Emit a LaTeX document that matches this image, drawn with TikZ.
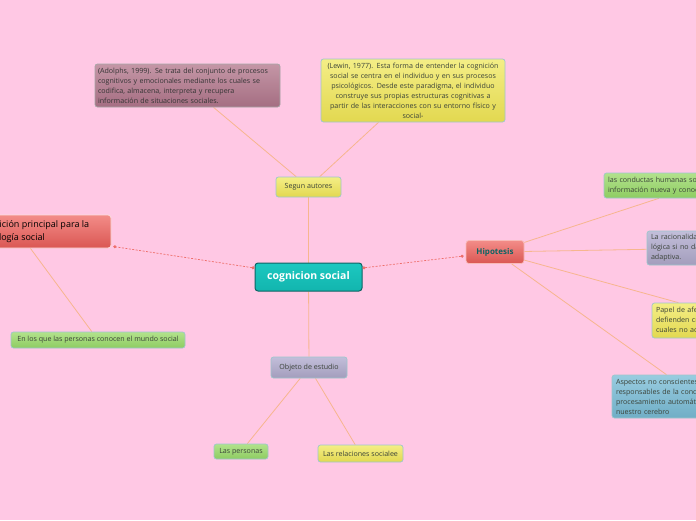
\documentclass[tikz,border=0pt]{standalone}
\usepackage{fontspec}
\setmainfont{Open Sans}
\usetikzlibrary{arrows.meta,calc,backgrounds}
\definecolor{bgpink}{HTML}{FFC8E4}
\definecolor{linor}{HTML}{F7B68E}
\definecolor{dashred}{HTML}{EE6E6A}
\definecolor{tealA}{HTML}{1CC8C0}
\definecolor{tealB}{HTML}{12B5AE}
\definecolor{tealD}{HTML}{0E6464}
\definecolor{redA}{HTML}{F38C88}
\definecolor{redB}{HTML}{DA5753}
\definecolor{yelA}{HTML}{F4EE86}
\definecolor{yelB}{HTML}{E2D850}
\definecolor{grnA}{HTML}{B2E28C}
\definecolor{grnB}{HTML}{8ECC62}
\definecolor{lavA}{HTML}{C2BEDA}
\definecolor{lavB}{HTML}{A39DBC}
\definecolor{mauA}{HTML}{C496A6}
\definecolor{mauB}{HTML}{A56E82}
\definecolor{bluA}{HTML}{98CCE0}
\definecolor{bluB}{HTML}{70AEC6}
\definecolor{bordc}{HTML}{9EC6CC}
\definecolor{txtc}{HTML}{3A4238}
\tikzset{
  box/.style={rounded corners=2.5pt, draw=bordc, line width=0.7pt, inner sep=0pt,
    font=\fontsize{7.1}{10}\selectfont, text=txtc},
  yelbox/.style={box, top color=yelA, bottom color=yelB},
  grnbox/.style={box, top color=grnA, bottom color=grnB},
  lavbox/.style={box, top color=lavA, bottom color=lavB},
  maubox/.style={box, top color=mauA, bottom color=mauB, draw=gray!70},
  blubox/.style={box, top color=bluA, bottom color=bluB},
  conn/.style={draw=linor, line width=0.8pt},
  dconn/.style={draw=dashred, line width=0.7pt, dash pattern=on 2pt off 1.5pt,
    {Circle[length=3pt]}-{Circle[length=3pt]}},
}
\begin{document}
\begin{tikzpicture}[x=1pt,y=-1pt]
\clip (0,0) rectangle (696,520);

% central
\node[rounded corners=3pt, draw=tealD, line width=1pt, top color=tealA, bottom color=tealB,
  minimum width=107pt, minimum height=28pt, text=white,
  font=\fontsize{10.5}{12}\selectfont\bfseries] (cen) at (308.5,277) {cognicion social};

% Hipotesis
\node[rounded corners=3pt, draw=redA!60!white, line width=0.7pt, top color=redA, bottom color=redB,
  minimum width=58pt, minimum height=23pt, text=tealD,
  font=\fontsize{8}{10}\selectfont\bfseries] (hip) at (495,252) {Hipotesis};

% left red node
\node[rounded corners=3pt, draw=white!70!redA, line width=0.7pt, top color=redA, bottom color=redB,
  minimum width=186pt, minimum height=33pt] (left) at (18,231.5) {};
\node[anchor=west, align=left, inner sep=0pt, text=black,
  font=\fontsize{9}{13}\selectfont] (lefttxt) at (-23,231.5) {Definición principal para la\\psicología social};

% top branch
\node[yelbox, minimum width=65pt, minimum height=20pt] (seg) at (308.5,187) {Segun autores};
\node[maubox, minimum width=185pt, minimum height=43pt, text width=179pt, align=left, inner xsep=3pt,
  text=black!80] (ado) at (187.5,85.5)
  {(Adolphs, 1999). Se trata del conjunto de procesos\\cognitivos y emocionales mediante los cuales se\\codifica, almacena, interpreta y recupera\\información de situaciones sociales.};
\node[yelbox, minimum width=184pt, minimum height=63pt, text width=182pt, align=center] (lew) at (413,90.5)
  {(Lewin, 1977). Esta forma de entender la cognición\\social se centra en el individuo y en sus procesos\\psicológicos. Desde este paradigma, el individuo\\construye sus propias estructuras cognitivas a\\partir de las interacciones con su entorno físico y\\social-};

% bottom branch
\node[lavbox, minimum width=76pt, minimum height=21pt] (obj) at (309,367.5) {Objeto de estudio};
\node[grnbox, minimum width=54pt, minimum height=15pt] (per) at (241,451.5) {Las personas};
\node[yelbox, minimum width=85pt, minimum height=17pt] (rel) at (360.5,453.5) {Las relaciones socialee};

% left child
\node[grnbox, minimum width=174pt, minimum height=16pt] (enl) at (98,340) {En los que las personas conocen el mundo social};

% right children
\node[grnbox, minimum width=188pt, minimum height=25pt, text width=180pt, align=left, inner xsep=4pt] (r1) at (698,185.5)
  {las conductas humanas son producto de la\\información nueva y conocimientos previos};
\node[lavbox, minimum width=146pt, minimum height=34pt, text width=138pt, align=left, inner xsep=4pt] (r2) at (720,248)
  {La racionalidad no es\\lógica si no da una\\adaptiva.};
\node[yelbox, minimum width=182pt, minimum height=35pt, text width=174pt, align=left, inner xsep=4pt] (r3) at (743,320.5)
  {Papel de afectos que\\defienden creencias\\cuales no aceptan};
\node[blubox, minimum width=170pt, minimum height=43pt, text width=162pt, align=left, inner xsep=4pt] (r4) at (697,396.5)
  {Aspectos no conscientes que son\\responsables de la conducta y el\\procesamiento automático de\\nuestro cerebro};

\begin{scope}[on background layer]
\fill[bgpink] (0,0) rectangle (696,520);
\draw[conn] (cen) -- (seg);
\draw[conn] (seg) -- (ado);
\draw[conn] (seg) -- (lew);
\draw[conn] (cen) -- (obj);
\draw[conn] (obj) -- (per);
\draw[conn] (obj) -- (rel);
\draw[conn] (left) -- (enl);
\draw[conn] (hip) -- (r1);
\draw[conn] (hip) -- (r2);
\draw[conn] (hip) -- (r3);
\draw[conn] (hip) -- (r4);
\end{scope}
\draw[dconn] ($(cen.west)+(0,-9)$) -- ($(left.east)+(2,15)$);
\draw[dconn] ($(cen.east)+(0,-9)$) -- ($(hip.west)+(-2,4)$);
\end{tikzpicture}
\end{document}
